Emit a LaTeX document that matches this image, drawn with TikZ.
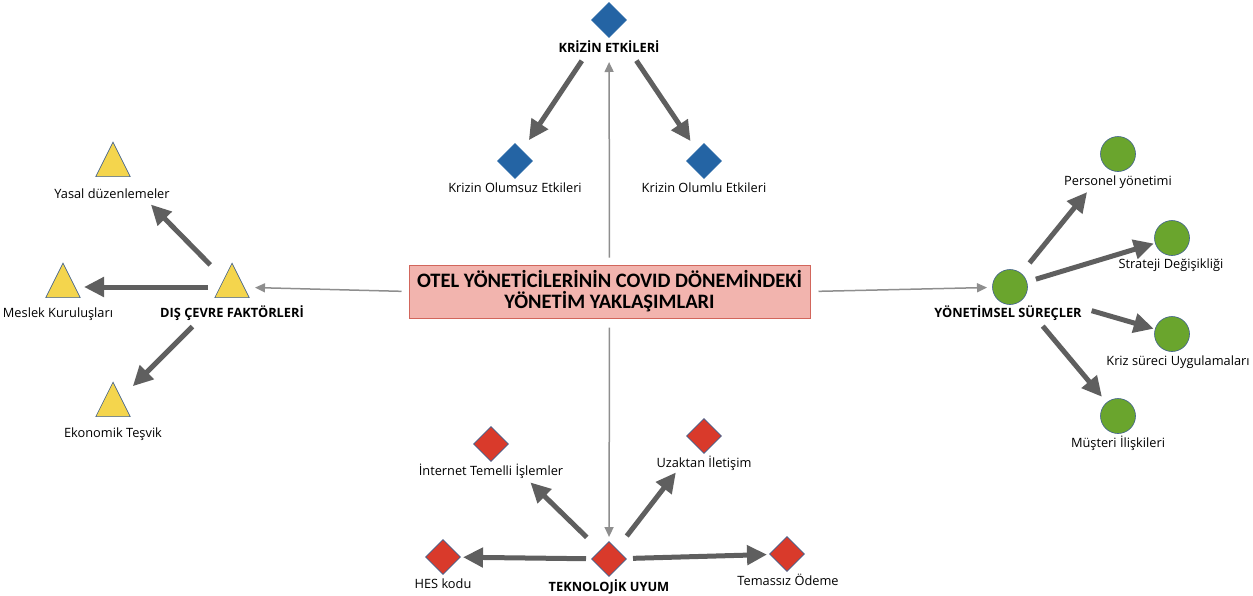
\documentclass[tikz,border=0pt]{standalone}
\usepackage{fontspec}
\setmainfont{Open Sans}
\newfontfamily\titlefont{Carlito}
\usetikzlibrary{shapes.geometric,arrows.meta}
\definecolor{arrowgray}{HTML}{5F5F5F}
\definecolor{thingray}{HTML}{8E8E8E}
\definecolor{kblue}{HTML}{2464A4}
\definecolor{kred}{HTML}{D93A2B}
\definecolor{kyellow}{HTML}{F4D54D}
\definecolor{kgreen}{HTML}{6AA52D}
\definecolor{kedge}{HTML}{40608C}
\definecolor{boxfill}{HTML}{F2B4AE}
\definecolor{boxedge}{HTML}{D2665C}
\tikzset{
  lbl/.style={inner sep=0pt, font=\fontsize{12.8}{14}\selectfont},
  blbl/.style={inner sep=0pt, font=\fontsize{12.8}{14}\selectfont\bfseries},
  bluedia/.style={diamond, fill=kblue, draw=kblue, line width=0.6pt, inner sep=0pt, minimum width=35pt, minimum height=35pt},
  reddia/.style={diamond, fill=kred, draw=kedge, line width=0.6pt, inner sep=0pt, minimum width=35pt, minimum height=35pt},
  ytri/.style={isosceles triangle, isosceles triangle stretches, shape border rotate=90, fill=kyellow, draw=kedge, line width=0.6pt, inner sep=0pt, minimum width=34.5pt, minimum height=34.5pt},
  gcirc/.style={circle, fill=kgreen, draw=kedge, line width=0.6pt, inner sep=0pt, minimum size=35pt},
  thick arrow/.style={draw=arrowgray, line width=5pt, -{Triangle[length=20pt,width=19pt]}},
  thin arrow/.style={draw=thingray, line width=1.5pt, -{Triangle[length=10pt,width=9pt]}},
}
\begin{document}
\begin{tikzpicture}[x=1pt, y=-1pt]
\useasboundingbox (0,0) rectangle (1253,595);

% central title box
\node[draw=boxedge, fill=boxfill, line width=1pt, minimum width=401pt, minimum height=53pt, inner sep=0pt,
      align=center, font=\titlefont\fontsize{20.5}{21}\selectfont\bfseries] (main) at (609.5,291.5)
  {OTEL YÖNETİCİLERİNİN COVID DÖNEMİNDEKİ\\YÖNETİM YAKLAŞIMLARI};

% crisis effects (top)
\node[bluedia] (ke) at (609,20) {};
\node[blbl] (ke-l) at (609,47) {KRİZİN ETKİLERİ};
\node[bluedia] (kn) at (515,161) {};
\node[lbl] (kn-l) at (515,188) {Krizin Olumsuz Etkileri};
\node[bluedia] (kp) at (704,161) {};
\node[lbl] (kp-l) at (704,188) {Krizin Olumlu Etkileri};

% external factors (left)
\node[ytri] (dc) at (232,287) {};
\node[blbl] (dc-l) at (232,313) {DIŞ ÇEVRE FAKTÖRLERİ};
\node[ytri] (yd) at (113,166) {};
\node[lbl] (yd-l) at (112,194) {Yasal düzenlemeler};
\node[ytri] (mk) at (63,287) {};
\node[lbl] (mk-l) at (58,314) {Meslek Kuruluşları};
\node[ytri] (et) at (113,406) {};
\node[lbl] (et-l) at (113,434) {Ekonomik Teşvik};

% managerial processes (right)
\node[gcirc] (ys) at (1010,287) {};
\node[blbl] (ys-l) at (1008,313) {YÖNETİMSEL SÜREÇLER};
\node[gcirc] (py) at (1118,154) {};
\node[lbl] (py-l) at (1118,182) {Personel yönetimi};
\node[gcirc] (sd) at (1172,238) {};
\node[lbl] (sd-l) at (1171,265) {Strateji Değişikliği};
\node[gcirc] (ks) at (1172,334) {};
\node[lbl] (ks-l) at (1178,362) {Kriz süreci Uygulamaları};
\node[gcirc] (mi) at (1118,416) {};
\node[lbl] (mi-l) at (1118,443) {Müşteri İlişkileri};

% technological adaptation (bottom)
\node[reddia] (tu) at (609,559) {};
\node[blbl] (tu-l) at (609,587) {TEKNOLOJİK UYUM};
\node[reddia] (hes) at (443,557) {};
\node[lbl] (hes-l) at (443,584) {HES kodu};
\node[reddia] (ti) at (491,444) {};
\node[lbl] (ti-l) at (491,471) {İnternet Temelli İşlemler};
\node[reddia] (ui) at (704,436) {};
\node[lbl] (ui-l) at (704,463) {Uzaktan İletişim};
\node[reddia] (to) at (787,554) {};
\node[lbl] (to-l) at (788,580) {Temassız Ödeme};

% thin connectors from the title box
\draw[thin arrow, shorten <=7pt, shorten >=42pt] (main.north) -- (ke.center);
\draw[thin arrow, shorten <=7pt, shorten >=23pt] (main.west) -- (dc.center);
\draw[thin arrow, shorten <=8pt, shorten >=23pt] (main.east) -- (ys.center);
\draw[thin arrow, shorten <=9pt, shorten >=22pt] (main.south) -- (tu.center);

% thick connectors to sub-themes
\draw[thick arrow, shorten <=49pt, shorten >=25pt] (ke.center) -- (kn.center);
\draw[thick arrow, shorten <=49pt, shorten >=24pt] (ke.center) -- (kp.center);

\draw[thick arrow, shorten <=31pt, shorten >=54pt] (dc.center) -- (yd.center);
\draw[thick arrow, shorten <=24pt, shorten >=21pt] (dc.center) -- (mk.center);
\draw[thick arrow, shorten <=56pt, shorten >=28pt] (dc.center) -- (et.center);

\draw[thick arrow, shorten <=31pt, shorten >=49pt] (ys.center) -- (py.center);
\draw[thick arrow, shorten <=27pt, shorten >=19pt] (ys.center) -- (sd.center);
\draw[thick arrow, shorten <=85pt, shorten >=19pt] (ys.center) -- (ks.center);
\draw[thick arrow, shorten <=51pt, shorten >=25pt] (ys.center) -- (mi.center);

\draw[thick arrow, shorten <=23pt, shorten >=20pt] (tu.center) -- (hes.center);
\draw[thick arrow, shorten <=31pt, shorten >=55pt] (tu.center) -- (ti.center);
\draw[thick arrow, shorten <=29pt, shorten >=46pt] (tu.center) -- (ui.center);
\draw[thick arrow, shorten <=24pt, shorten >=20pt] (tu.center) -- (to.center);
\end{tikzpicture}
\end{document}
